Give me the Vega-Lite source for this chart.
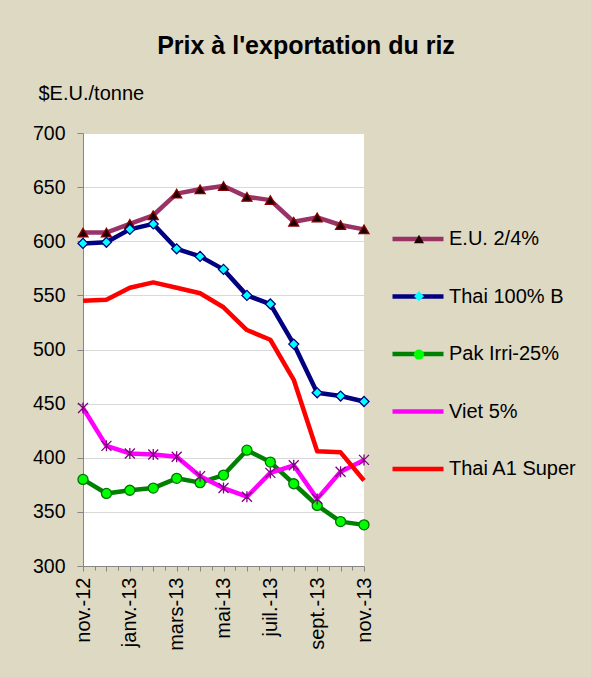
{
  "$schema": "https://vega.github.io/schema/vega-lite/v6.json",
  "autosize": "none",
  "width": 281,
  "height": 433,
  "padding": {"left": 83, "top": 133, "right": 227, "bottom": 111},
  "background": "#DDD9C3",
  "title": {
    "text": "Prix à l'exportation du riz",
    "fontSize": 25,
    "fontWeight": "bold",
    "color": "#000000",
    "anchor": "middle",
    "frame": "group",
    "dx": 82.5,
    "offset": 4,
    "baseline": "alphabetic"
  },
  "config": {
    "font": "Liberation Sans",
    "view": {"stroke": null, "fill": "#FFFFFF"},
    "axis": {"labelColor": "#000000", "titleColor": "#000000"}
  },
  "data": {
    "values": [
      {"m": 0, "series": "E.U. 2/4%", "v": 608},
      {"m": 1, "series": "E.U. 2/4%", "v": 608},
      {"m": 2, "series": "E.U. 2/4%", "v": 616},
      {"m": 3, "series": "E.U. 2/4%", "v": 624},
      {"m": 4, "series": "E.U. 2/4%", "v": 644},
      {"m": 5, "series": "E.U. 2/4%", "v": 648},
      {"m": 6, "series": "E.U. 2/4%", "v": 651},
      {"m": 7, "series": "E.U. 2/4%", "v": 641},
      {"m": 8, "series": "E.U. 2/4%", "v": 638},
      {"m": 9, "series": "E.U. 2/4%", "v": 618},
      {"m": 10, "series": "E.U. 2/4%", "v": 622},
      {"m": 11, "series": "E.U. 2/4%", "v": 615},
      {"m": 12, "series": "E.U. 2/4%", "v": 611},
      {"m": 0, "series": "Thai 100% B", "v": 598},
      {"m": 1, "series": "Thai 100% B", "v": 599},
      {"m": 2, "series": "Thai 100% B", "v": 611},
      {"m": 3, "series": "Thai 100% B", "v": 616},
      {"m": 4, "series": "Thai 100% B", "v": 593},
      {"m": 5, "series": "Thai 100% B", "v": 586},
      {"m": 6, "series": "Thai 100% B", "v": 574},
      {"m": 7, "series": "Thai 100% B", "v": 550},
      {"m": 8, "series": "Thai 100% B", "v": 542},
      {"m": 9, "series": "Thai 100% B", "v": 505},
      {"m": 10, "series": "Thai 100% B", "v": 460},
      {"m": 11, "series": "Thai 100% B", "v": 457},
      {"m": 12, "series": "Thai 100% B", "v": 452},
      {"m": 0, "series": "Pak Irri-25%", "v": 380},
      {"m": 1, "series": "Pak Irri-25%", "v": 367},
      {"m": 2, "series": "Pak Irri-25%", "v": 370},
      {"m": 3, "series": "Pak Irri-25%", "v": 372},
      {"m": 4, "series": "Pak Irri-25%", "v": 381},
      {"m": 5, "series": "Pak Irri-25%", "v": 377},
      {"m": 6, "series": "Pak Irri-25%", "v": 384},
      {"m": 7, "series": "Pak Irri-25%", "v": 407},
      {"m": 8, "series": "Pak Irri-25%", "v": 396},
      {"m": 9, "series": "Pak Irri-25%", "v": 376},
      {"m": 10, "series": "Pak Irri-25%", "v": 356},
      {"m": 11, "series": "Pak Irri-25%", "v": 341},
      {"m": 12, "series": "Pak Irri-25%", "v": 338},
      {"m": 0, "series": "Viet 5%", "v": 446},
      {"m": 1, "series": "Viet 5%", "v": 411},
      {"m": 2, "series": "Viet 5%", "v": 404},
      {"m": 3, "series": "Viet 5%", "v": 403},
      {"m": 4, "series": "Viet 5%", "v": 401},
      {"m": 5, "series": "Viet 5%", "v": 383},
      {"m": 6, "series": "Viet 5%", "v": 372},
      {"m": 7, "series": "Viet 5%", "v": 364},
      {"m": 8, "series": "Viet 5%", "v": 386},
      {"m": 9, "series": "Viet 5%", "v": 393},
      {"m": 10, "series": "Viet 5%", "v": 362},
      {"m": 11, "series": "Viet 5%", "v": 387},
      {"m": 12, "series": "Viet 5%", "v": 398},
      {"m": 0, "series": "Thai A1 Super", "v": 545},
      {"m": 1, "series": "Thai A1 Super", "v": 546},
      {"m": 2, "series": "Thai A1 Super", "v": 557},
      {"m": 3, "series": "Thai A1 Super", "v": 562},
      {"m": 4, "series": "Thai A1 Super", "v": 557},
      {"m": 5, "series": "Thai A1 Super", "v": 552},
      {"m": 6, "series": "Thai A1 Super", "v": 539},
      {"m": 7, "series": "Thai A1 Super", "v": 518},
      {"m": 8, "series": "Thai A1 Super", "v": 509},
      {"m": 9, "series": "Thai A1 Super", "v": 472},
      {"m": 10, "series": "Thai A1 Super", "v": 406},
      {"m": 11, "series": "Thai A1 Super", "v": 405},
      {"m": 12, "series": "Thai A1 Super", "v": 379}
    ]
  },
  "encoding": {
    "x": {
      "field": "m",
      "type": "quantitative",
      "scale": {"domain": [0, 12], "nice": false, "zero": false},
      "axis": {
        "title": null,
        "grid": false,
        "values": [0, 0.5, 1, 1.5, 2, 2.5, 3, 3.5, 4, 4.5, 5, 5.5, 6, 6.5, 7, 7.5, 8, 8.5, 9, 9.5, 10, 10.5, 11, 11.5, 12],
        "labelExpr": "datum.value % 2 == 0 ? ['nov.-12','janv.-13','mars-13','mai-13','juil.-13','sept.-13','nov.-13'][datum.value / 2] : ''",
        "labelAngle": -90,
        "labelAlign": "right",
        "labelBaseline": "middle",
        "labelFontSize": 20,
        "labelPadding": 6,
        "labelOverlap": false,
        "labelFlush": false,
        "labelBound": false,
        "tickSize": {"condition": {"test": "datum.value % 1 == 0", "value": 5}, "value": 4},
        "tickColor": "#868686",
        "domainColor": "#868686"
      }
    },
    "y": {
      "field": "v",
      "type": "quantitative",
      "scale": {"domain": [300, 700], "nice": false, "zero": false},
      "axis": {
        "values": [300, 350, 400, 450, 500, 550, 600, 650, 700],
        "grid": true,
        "gridColor": "#D9D9D9",
        "tickSize": 6,
        "tickColor": "#868686",
        "domainColor": "#868686",
        "labelFontSize": 19.5,
        "labelPadding": 12,
        "labelOverlap": false,
        "title": "$E.U./tonne",
        "titleX": -45,
        "titleY": -34,
        "titleAngle": 0,
        "titleAlign": "left",
        "titleBaseline": "alphabetic",
        "titleFontSize": 20,
        "titleFontWeight": "normal"
      }
    }
  },
  "layer": [
    {
      "mark": {"type": "line", "strokeWidth": 4.5, "strokeJoin": "round"},
      "encoding": {
        "stroke": {
          "field": "series",
          "type": "nominal",
          "scale": {
            "domain": ["E.U. 2/4%", "Thai 100% B", "Pak Irri-25%", "Viet 5%", "Thai A1 Super"],
            "range": ["#993366", "#000080", "#008000", "#FF00FF", "#FF0000"]
          },
          "legend": {
            "title": null,
            "orient": "none",
            "legendX": 307,
            "legendY": 78,
            "padding": 0,
            "zindex": 0,
            "symbolType": "stroke",
            "symbolSize": 2601,
            "symbolStrokeWidth": 4.5,
            "labelFontSize": 20,
            "labelColor": "#000000",
            "labelOffset": 3,
            "labelLimit": 250,
            "rowPadding": 19.5
          }
        }
      }
    },
    {
      "transform": [{"filter": "datum.series != 'Thai A1 Super'"}],
      "mark": {"type": "point", "filled": true, "size": 100, "strokeWidth": 1.3, "opacity": 1},
      "encoding": {
        "shape": {
          "field": "series",
          "type": "nominal",
          "scale": {
            "domain": ["E.U. 2/4%", "Thai 100% B", "Pak Irri-25%", "Viet 5%"],
            "range": ["triangle-up", "diamond", "circle", "M-1,-1L1,1M-1,1L1,-1M0,-1.1L0,1.1"]
          },
          "legend": {
            "title": null, "orient": "none", "legendX": 330, "legendY": 100, "padding": 0,
            "zindex": 5,
            "labelExpr": "''", "symbolSize": 100, "symbolStrokeWidth": 1.3, "rowPadding": 42.3, "labelOffset": 0,
            "symbolOpacity": 1,
            "encode": {
              "symbols": {
                "update": {
                  "shape": {"signal": "datum.value === 'E.U. 2/4%' ? 'triangle-up' : datum.value === 'Thai 100% B' ? 'diamond' : datum.value === 'Pak Irri-25%' ? 'circle' : 'M-1,-1L1,1M-1,1L1,-1M0,-1.1L0,1.1'"},
                  "fill": {"signal": "datum.value === 'E.U. 2/4%' ? '#1A0000' : datum.value === 'Thai 100% B' ? '#00FFFF' : datum.value === 'Pak Irri-25%' ? '#00FF00' : 'transparent'"},
                  "stroke": {"signal": "datum.value === 'E.U. 2/4%' ? '#8B0000' : datum.value === 'Thai 100% B' ? '#000080' : datum.value === 'Pak Irri-25%' ? '#007000' : '#800080'"},
                  "size": {"signal": "datum.value === 'Thai 100% B' ? 90 : 115"}
                }
              }
            }
          }
        },
        "fill": {
          "field": "series",
          "type": "nominal",
          "scale": {
            "domain": ["E.U. 2/4%", "Thai 100% B", "Pak Irri-25%", "Viet 5%"],
            "range": ["#1A0000", "#00FFFF", "#00FF00", "transparent"]
          },
          "legend": null
        },
        "stroke": {
          "field": "series",
          "type": "nominal",
          "scale": {
            "domain": ["E.U. 2/4%", "Thai 100% B", "Pak Irri-25%", "Viet 5%"],
            "range": ["#8B0000", "#000080", "#007000", "#800080"]
          },
          "legend": null
        }
      }
    }
  ],
  "resolve": {"scale": {"stroke": "independent"}}
}
